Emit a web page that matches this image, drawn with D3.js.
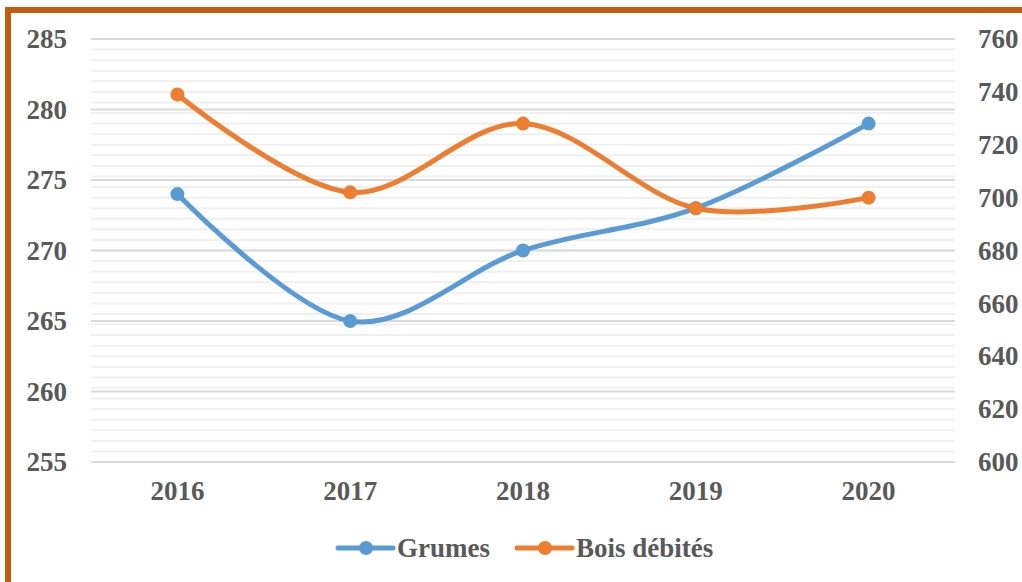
<!DOCTYPE html>
<html>
<head>
<meta charset="utf-8">
<script src="https://cdn.jsdelivr.net/npm/d3@7"></script>
<style>
  body { margin: 0; background: #fff; }
  text { font-family: "Liberation Serif", "Times New Roman", serif; font-weight: bold; fill: #595959; }
</style>
</head>
<body>
<script>
// Grumes vs Bois débités, 2016-2020
var years = ["2016", "2017", "2018", "2019", "2020"];
var grumes = [274, 265, 270, 273, 279];
var boisDebites = [739, 702, 728, 696, 700];
var leftTicks = [255, 260, 265, 270, 275, 280, 285];
var rightTicks = [600, 620, 640, 660, 680, 700, 720, 740, 760];

(function() {
  var width = 1022, height = 582;
  var plotLeft = 91, plotRight = 955, plotTop = 39, plotBottom = 462;
  var blue = "#5B9BD5", orange = "#ED7D31";
  var fontSize = "27px";

  var svg = d3.select("body").append("svg")
      .attr("width", width)
      .attr("height", height);

  // frame, only top and left edges are visible
  svg.append("rect")
      .attr("x", 8).attr("y", 10)
      .attr("width", width + 20).attr("height", height + 20)
      .attr("fill", "none")
      .attr("stroke", "#C55A11")
      .attr("stroke-width", 6);

  var x = d3.scaleBand().domain(years).range([plotLeft, plotRight]);
  var yL = d3.scaleLinear().domain([255, 285]).range([plotBottom, plotTop]);
  var yR = d3.scaleLinear().domain([600, 760]).range([plotBottom, plotTop]);

  // light gridlines (secondary axis, every 4)
  svg.append("g").selectAll("line")
      .data(d3.range(600, 761, 4))
    .enter().append("line")
      .attr("x1", plotLeft).attr("x2", plotRight)
      .attr("y1", d => yR(d)).attr("y2", d => yR(d))
      .attr("stroke", "#f0f0f0")
      .attr("stroke-width", 2);

  // main gridlines (primary axis)
  svg.append("g").selectAll("line")
      .data(leftTicks)
    .enter().append("line")
      .attr("x1", plotLeft).attr("x2", plotRight)
      .attr("y1", d => yL(d)).attr("y2", d => yL(d))
      .attr("stroke", "#d9d9d9")
      .attr("stroke-width", 2);

  var axisL = svg.append("g")
      .attr("transform", "translate(" + (plotLeft - 24) + ",0)")
      .call(d3.axisLeft(yL).tickValues(leftTicks).tickSize(0).tickPadding(0));
  var axisR = svg.append("g")
      .attr("transform", "translate(" + (plotRight + 23) + ",0)")
      .call(d3.axisRight(yR).tickValues(rightTicks).tickSize(0).tickPadding(0));
  var axisB = svg.append("g")
      .attr("transform", "translate(0," + (plotBottom + 15) + ")")
      .call(d3.axisBottom(x).tickSize(0).tickPadding(0));

  [axisL, axisR, axisB].forEach(function(a) {
    a.select(".domain").remove();
    a.selectAll("text")
        .attr("fill", "#595959")
        .style("font-size", fontSize)
        .style("font-family", "'Liberation Serif', serif")
        .style("font-weight", "bold");
  });
  axisB.selectAll("text").attr("dy", "0.85em");

  function drawSeries(values, yScale, color) {
    var pts = values.map((v, i) => [x(years[i]) + x.bandwidth() / 2, yScale(v)]);
    var line = d3.line().curve(d3.curveCatmullRom.alpha(0));
    svg.append("path")
        .attr("d", line(pts))
        .attr("fill", "none")
        .attr("stroke", color)
        .attr("stroke-width", 5)
        .attr("stroke-linecap", "round");
    svg.append("g").selectAll("circle")
        .data(pts)
      .enter().append("circle")
        .attr("cx", d => d[0]).attr("cy", d => d[1])
        .attr("r", 7)
        .attr("fill", color);
  }

  drawSeries(grumes, yL, blue);
  drawSeries(boisDebites, yR, orange);

  // legend
  var legend = [
    { name: "Grumes", color: blue, x: 338 },
    { name: "Bois débités", color: orange, x: 517 }
  ];
  var ly = 548;
  legend.forEach(function(d) {
    svg.append("line")
        .attr("x1", d.x).attr("x2", d.x + 55)
        .attr("y1", ly).attr("y2", ly)
        .attr("stroke", d.color)
        .attr("stroke-width", 5)
        .attr("stroke-linecap", "round");
    svg.append("circle")
        .attr("cx", d.x + 28).attr("cy", ly)
        .attr("r", 7)
        .attr("fill", d.color);
    svg.append("text")
        .attr("x", d.x + 59).attr("y", ly + 9)
        .style("font-size", fontSize)
        .text(d.name);
  });
})();
</script>
</body>
</html>
